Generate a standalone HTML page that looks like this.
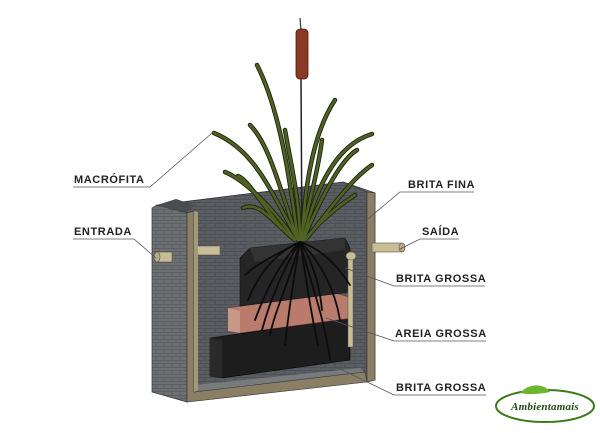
<!DOCTYPE html>
<html><head><meta charset="utf-8"><style>
html,body{margin:0;padding:0;background:#fff;width:600px;height:433px;overflow:hidden}
text{font-family:"Liberation Sans",sans-serif;font-weight:bold;font-size:11px;fill:#222;letter-spacing:0.6px}
</style></head><body>
<svg width="600" height="433" viewBox="0 0 600 433" xmlns="http://www.w3.org/2000/svg">
<defs>
<pattern id="brick" width="10" height="7" patternUnits="userSpaceOnUse">
<rect width="10" height="7" fill="#5a5e62"/>
<path d="M0 6.5H10M5 0V3.5M0 3.5H10M0 3.5V7" stroke="#484b4f" stroke-width="0.8" fill="none"/>
</pattern>
<pattern id="brick2" width="8" height="7" patternUnits="userSpaceOnUse">
<rect width="8" height="7" fill="#6c7073"/>
<path d="M0 6.5H8M4 0V3.5M0 3.5H8" stroke="#56595c" stroke-width="0.8" fill="none"/>
</pattern>
</defs>
<polygon points="157,205 343,182 375,193 370,378 194,398" fill="url(#brick)" stroke="#333" stroke-width="0.8"/>
<polygon points="343,182 375,193 375,380 367,382 367,192" fill="url(#brick2)" stroke="#333" stroke-width="0.6"/>
<polygon points="367,192 375,193 375,380 367,382" fill="#8a7f64" stroke="#333" stroke-width="0.6"/>
<polygon points="194,385 360,368 367,375 194,398" fill="#777b7e"/>
<rect x="372" y="243" width="30" height="9" fill="#c9bd96" stroke="#555" stroke-width="0.6"/>
<ellipse cx="402" cy="247.5" rx="3" ry="4.5" fill="#b5a983" stroke="#555" stroke-width="0.6"/>
<polygon points="210,338 350,318 350,360 222,378 210,376" fill="#1d1d1d" stroke="#000" stroke-width="0.6"/>
<polygon points="210,338 222,340 222,378 210,376" fill="#2a2a2a"/>
<polygon points="228,308 335,293 352,298 352,318 240,333 228,331" fill="#b87b6c" stroke="#6a4238" stroke-width="0.6"/>
<polygon points="228,308 240,311 240,333 228,331" fill="#c99787"/>
<polygon points="240,258 250,248 345,238 350,248 350,292 240,306" fill="#252525" stroke="#111" stroke-width="0.6"/>
<polygon points="250,248 345,238 345,250 255,262" fill="#333"/>
<rect x="348" y="252" width="5" height="95" fill="#c9bd96" stroke="#555" stroke-width="0.5"/>
<ellipse cx="351" cy="256" rx="5" ry="4" fill="#c9bd96" stroke="#555" stroke-width="0.5"/>
<rect x="194" y="246" width="26" height="9" fill="#c9bd96" stroke="#555" stroke-width="0.6"/>
<polygon points="152,208 157,205 187,213 187,402 152,392" fill="url(#brick2)" stroke="#333" stroke-width="0.7"/>
<polygon points="157,205 176,199 194,205 187,213" fill="#4a4d50"/>
<polygon points="187,213 194,211 194,392 365,372 367,382 187,402" fill="#8a7f64" stroke="#333" stroke-width="0.6"/>
<polygon points="194,211 198,212 198,390 194,392" fill="#a39878"/>
<rect x="156" y="252" width="16" height="10" fill="#c9bd96" stroke="#555" stroke-width="0.6"/>
<ellipse cx="157" cy="257" rx="3" ry="5" fill="#b5a983" stroke="#555" stroke-width="0.6"/>
<path d="M300 18 L301 30" stroke="#333" stroke-width="1.2"/>
<line x1="301" y1="78" x2="302" y2="250" stroke="#222" stroke-width="1.5"/>
<rect x="296" y="29" width="12" height="50" rx="4" fill="#8a3a22" stroke="#4a1a10" stroke-width="0.8"/>
<g fill="none" stroke="#1f2610" stroke-width="4.5" stroke-linecap="round">
<path d="M298 240 C290 180 280 110 257 65"/>
<path d="M298 240 C280 190 270 145 250 125"/>
<path d="M298 240 C270 190 255 150 214 133"/>
<path d="M295 240 C275 210 245 180 225 172"/>
<path d="M295 240 C270 220 250 180 238 176"/>
<path d="M295 240 C275 225 260 200 243 208"/>
<path d="M302 240 C305 180 315 130 335 100"/>
<path d="M303 240 C315 190 335 145 372 134"/>
<path d="M303 240 C320 200 340 160 357 150"/>
<path d="M305 240 C330 210 350 180 372 165"/>
<path d="M305 240 C320 220 340 205 355 195"/>
<path d="M300 240 C300 200 290 160 285 130"/>
<path d="M300 240 C310 200 318 170 322 140"/>
</g>
<g fill="none" stroke="#4f6224" stroke-width="2.6" stroke-linecap="round">
<path d="M298 240 C290 180 280 110 257 65"/>
<path d="M298 240 C280 190 270 145 250 125"/>
<path d="M298 240 C270 190 255 150 214 133"/>
<path d="M295 240 C275 210 245 180 225 172"/>
<path d="M295 240 C270 220 250 180 238 176"/>
<path d="M295 240 C275 225 260 200 243 208"/>
<path d="M302 240 C305 180 315 130 335 100"/>
<path d="M303 240 C315 190 335 145 372 134"/>
<path d="M303 240 C320 200 340 160 357 150"/>
<path d="M305 240 C330 210 350 180 372 165"/>
<path d="M305 240 C320 220 340 205 355 195"/>
<path d="M300 240 C300 200 290 160 285 130"/>
<path d="M300 240 C310 200 318 170 322 140"/>
</g>
<g fill="none" stroke="#0c0c0c" stroke-width="1.8" stroke-linecap="round">
<path d="M300 242 C280 250 260 270 248 300"/>
<path d="M300 242 C285 265 270 300 262 330"/>
<path d="M300 242 C295 270 290 300 285 345"/>
<path d="M300 242 C305 270 310 310 318 345"/>
<path d="M300 242 C320 260 335 290 340 320"/>
<path d="M300 242 C325 250 340 270 350 285"/>
<path d="M300 242 C310 280 325 320 330 360"/>
<path d="M300 242 C275 255 255 265 245 275"/>
<path d="M300 242 C290 280 275 310 270 335"/>
<path d="M300 242 C315 265 320 290 322 310"/>
<path d="M300 242 C282 260 268 285 255 320"/>
</g>
<g stroke="#555" stroke-width="0.8" fill="none">
<path d="M73 187 H150 L212 133"/>
<path d="M73 239 H134 L156 258"/>
<path d="M474 192 H400 L345 238"/>
<path d="M459 239 H420 L400 249"/>
<path d="M485 286 H394 L345 268"/>
<path d="M486 341 H394 L326 318"/>
<path d="M486 395 H394 L332 365"/>
</g>
<text x="74" y="183">MACRÓFITA</text>
<text x="74" y="235">ENTRADA</text>
<text x="408" y="188">BRITA FINA</text>
<text x="422" y="235">SAÍDA</text>
<text x="396" y="282">BRITA GROSSA</text>
<text x="395" y="337">AREIA GROSSA</text>
<text x="396" y="391">BRITA GROSSA</text>
<ellipse cx="545" cy="406" rx="49" ry="16" fill="#fff" stroke="#3d7a1a" stroke-width="2"/>
<path d="M520 393 C530 382 545 384 550 392 C540 394 530 395 520 393Z" fill="#6cb52e"/>
<text x="545" y="410" text-anchor="middle" style="font-family:'Liberation Serif',serif;font-style:italic;font-weight:bold;font-size:11px;fill:#1e4a10;letter-spacing:0.2px">Ambientamais</text>
</svg>
</body></html>
